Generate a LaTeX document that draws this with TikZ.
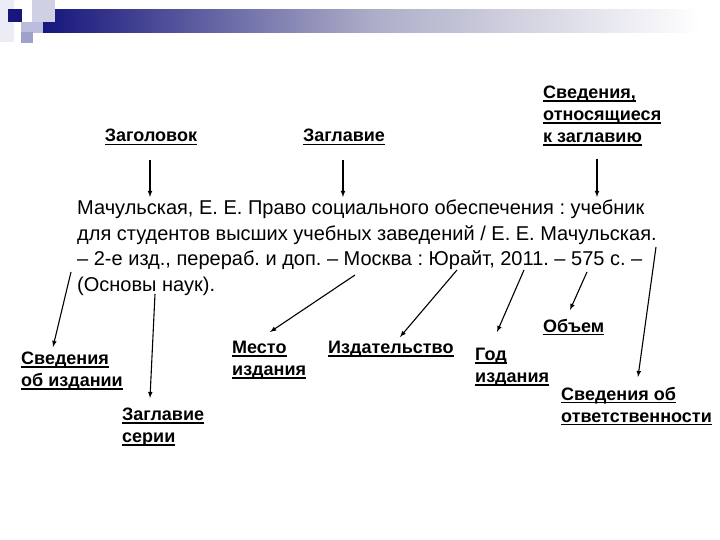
\documentclass[tikz,border=0pt]{standalone}
\usepackage{fontspec}
\setmainfont{Liberation Sans}
\frenchspacing
\definecolor{navy}{RGB}{22,22,125}
\definecolor{palelav}{RGB}{236,236,246}
\definecolor{lightlav}{RGB}{208,208,228}
\definecolor{midlav}{RGB}{160,160,205}
% underline a label with a thick rule
\newsavebox\lblbox
\newcommand\undl[1]{\sbox\lblbox{#1}\rlap{\rule[-3pt]{\wd\lblbox}{1.3pt}}\usebox\lblbox}
\begin{document}
\begin{tikzpicture}[x=1pt, y=-1pt, >=latex,
    lbl/.style={font=\fontsize{18}{22}\selectfont\bfseries, align=left, inner sep=0pt},
    arr/.style={->, line width=1.1pt}]
    \useasboundingbox (0,0) rectangle (720,540);

    % header bar
    \fill[palelav] (0,0) rectangle (14,42);
    \shade[left color=navy, right color=white, middle color=midlav!75!gray!80] (43,10) rectangle (700,33);
    \fill[lightlav] (32,0) rectangle (55,22);
    \fill[midlav!70] (21,22) rectangle (43,33);
    \fill[midlav] (21,32) rectangle (33,43);
    \fill[navy] (8,9) rectangle (22,22);

    % the entry itself
    \node[anchor=north west, inner sep=0pt, align=left,
          font=\fontsize{20}{25.5}\selectfont] (entry) at (77,200)
      {Мачульская, Е. Е. Право социального обеспечения : учебник\\
       для студентов высших учебных заведений / Е. Е. Мачульская.\\
       – 2-е изд., перераб. и доп. – Москва : Юрайт, 2011. – 575 с. –\\
       (Основы наук).};

    % labels above
    \node[lbl, anchor=base] (zagolovok) at (151,142) {\undl{Заголовок}};
    \node[lbl, anchor=base] (zaglavie) at (344,142) {\undl{Заглавие}};
    \node[lbl, anchor=north west] (svedzag) at (543,86)
      {\undl{Сведения,}\\\undl{относящиеся}\\\undl{к заглавию}};

    % labels below
    \node[lbl, anchor=north west] (obizd) at (21,352) {\undl{Сведения}\\\undl{об издании}};
    \node[lbl, anchor=north west] (seria) at (122,408) {\undl{Заглавие}\\\undl{серии}};
    \node[lbl, anchor=north west] (mesto) at (232,341) {\undl{Место}\\\undl{издания}};
    \node[lbl, anchor=north west] (izdat) at (328,341) {\undl{Издательство}};
    \node[lbl, anchor=north west] (god) at (475,348) {\undl{Год}\\\undl{издания}};
    \node[lbl, anchor=north west] (obem) at (543,319) {\undl{Объем}};
    \node[lbl, anchor=north west] (otv) at (561,387) {\undl{Сведения об}\\\undl{ответственности}};

    % points in the entry
    \coordinate (t1) at (150,197);
    \coordinate (t2) at (343,197);
    \coordinate (t3) at (597,197);
    \coordinate (s1) at (71,272);
    \coordinate (s2) at (155,294);
    \coordinate (s3) at (355,275);
    \coordinate (s4) at (457,270);
    \coordinate (s5) at (524,270);
    \coordinate (s6) at (587,272);
    \coordinate (s7) at (656,247);

    \draw[arr, shorten <=15pt] (zagolovok.south -| t1) -- (t1);
    \draw[arr, shorten <=15pt] (zaglavie.south -| t2) -- (t2);
    \draw[arr, shorten <=13pt] (svedzag.south -| t3) -- (t3);

    \draw[arr] (s1) -- ([shift={(32,-5)}]obizd.north west);
    \draw[arr] (s2) -- ([shift={(28,-10)}]seria.north west);
    \draw[arr] (s3) -- ([shift={(38,-9)}]mesto.north west);
    \draw[arr] (s4) -- ([shift={(72,-4)}]izdat.north west);
    \draw[arr] (s5) -- ([shift={(22,-16)}]god.north west);
    \draw[arr] (s6) -- ([shift={(27,-9)}]obem.north west);
    \draw[arr] (s7) -- ([shift={(77,-10)}]otv.north west);
  \end{tikzpicture}
\end{document}
